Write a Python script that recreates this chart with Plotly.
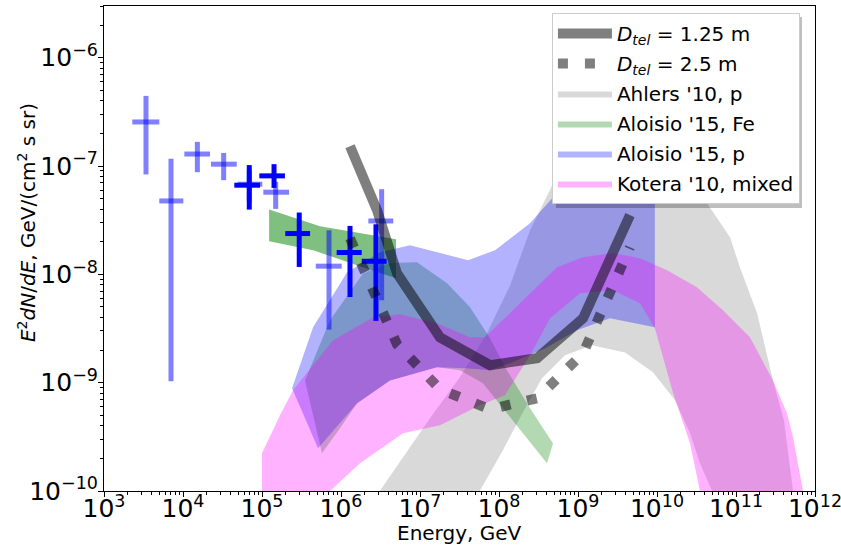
import plotly.graph_objects as go
import math

# ---------------- data ----------------
# Ahlers '10, p  (grey band): outer (upper) and inner (lower) curves
ahlers_up_E = [3.1e6, 1.42e7, 3.2e7, 7.05e7, 1.38e8, 2.47e8, 4.4e8, 9.2e8, 2.54e9, 8.15e9,
               2.26e10, 4.3e10, 8.4e10, 1.12e11, 1.85e11, 2.94e11, 4.05e11, 5.27e11]
ahlers_up_F = [1e-10, 5.0e-10, 1.12e-9, 2.86e-9, 7.9e-9, 2.55e-8, 5.97e-8, 1.93e-7, 3.64e-7, 3.27e-7,
               1.13e-7, 4.54e-8, 2.2e-8, 1.16e-8, 4.37e-9, 1.05e-9, 4.5e-10, 1e-10]
ahlers_lo_E = [5.7e7, 1.12e8, 2.01e8, 3.5e8, 6.84e8, 1.5e9, 3.94e9, 8.9e9, 1.69e10, 2.62e10, 3.5e10, 4.97e10]
ahlers_lo_F = [1e-10, 2.38e-10, 5.33e-10, 1.1e-9, 1.79e-9, 2.21e-9, 1.9e-9, 1.25e-9, 6.9e-10, 3.41e-10, 1.8e-10, 1e-10]

# Aloisio '15, Fe (green band)
fe_up_E = [3.5e5, 7.26e5, 1.9e6, 4.17e6, 9.16e6, 2.2e7, 4.3e7, 7.7e7, 1.26e8, 2.47e8, 4.83e8]
fe_up_F = [1.05e-9, 3.77e-9, 1.02e-8, 1.27e-8, 1.29e-8, 8.28e-9, 4.97e-9, 2.57e-9, 1.3e-9, 5.8e-10, 2.75e-10]
fe_lo_E = [5.74e5, 9.7e5, 1.6e6, 4.17e6, 1.64e7, 3.2e7, 6.27e7, 1.6e8, 4.05e8]
fe_lo_F = [2.23e-10, 3.8e-10, 6.46e-10, 1.05e-9, 1.39e-9, 1.3e-9, 9.9e-10, 4.2e-10, 1.8e-10]
# Aloisio '15, Fe (darker low-energy part)
fe2_up_E = [1.23e5, 5.42e5, 4.97e6]
fe2_up_F = [3.97e-8, 2.78e-8, 2.11e-8]
fe2_lo_E = [1.23e5, 4.43e5, 1.74e6, 4.97e6]
fe2_lo_F = [2.02e-8, 1.67e-8, 1.19e-8, 9.2e-9]

# Aloisio '15, p (blue band)
p_up_E = [2.4e5, 4.43e5, 1.19e6, 3.12e6, 7.47e6, 1.69e7, 4.06e7, 8.9e7, 2.47e8, 4.83e8, 1.9e9, 9.4e9]
p_up_F = [8.87e-10, 3.24e-9, 1.04e-8, 1.6e-8, 1.86e-8, 1.6e-8, 1.35e-8, 1.67e-8, 2.96e-8, 5.15e-8, 1.4e-7, 2.38e-7]
p_lo_E = [2.4e5, 5.12e5, 1.6e6, 4.17e6, 1.64e7, 3.72e7, 7.7e7, 1.38e8, 3.82e8, 9.7e8, 2.54e9, 9.4e9]
p_lo_F = [8.87e-10, 2.48e-10, 6.46e-10, 1.05e-9, 1.39e-9, 1.36e-9, 1.3e-9, 1.51e-9, 2.07e-9, 3.05e-9, 3.93e-9, 3.24e-9]

# Kotera '10, mixed (magenta band)
kot_up_E = [1e5, 1.69e5, 2.47e5, 7.93e5, 2.54e6, 5.58e6, 1.64e7, 4.3e7, 6.65e7, 1.85e8, 5.42e8,
            1.16e9, 2.77e9, 6.1e9, 1.34e10, 3.2e10, 6.84e10, 1.5e11, 2.94e11, 4.43e11, 5.27e11, 7.05e11]
kot_up_F = [2.23e-10, 5.0e-10, 8.5e-10, 2.46e-9, 4.0e-9, 4.28e-9, 3.53e-9, 2.62e-9, 2.62e-9, 5.41e-9, 1.16e-8,
            1.44e-8, 1.57e-8, 1.41e-8, 1.09e-8, 7.6e-9, 4.65e-9, 2.62e-9, 1.05e-9, 5.2e-10, 3.13e-10, 1e-10]
kot_lo_E = [1e5, 7.26e5, 1.74e6, 6.1e6, 1.79e7, 5.74e7, 1.19e8, 2.47e8, 4.43e8, 1.06e9, 2.77e9,
            6.1e9, 9.4e9, 1.6e10, 2.62e10, 3.5e10]
kot_lo_F = [1e-10, 1e-10, 1.8e-10, 3.41e-10, 4.04e-10, 6.2e-10, 7.66e-10, 1.79e-9, 3.93e-9, 6.68e-9, 7.13e-9,
            5.41e-9, 3.18e-9, 7.98e-10, 2.75e-10, 1e-10]

# Sensitivity curves
sens_E_125 = [1.3e6, 2.86e6, 5.12e6, 1.79e7, 7.7e7, 3.03e8, 1.16e9, 4.55e9]
sens_F_125 = [1.52e-7, 3.91e-8, 1.02e-8, 2.62e-9, 1.45e-9, 1.68e-9, 3.93e-9, 3.52e-8]
sens_E_25 = [1.3e6, 5.12e6, 1.79e7, 7.7e7, 3.03e8, 1.16e9, 4.55e9]
sens_F_25 = [2.15e-8, 2.26e-9, 8.7e-10, 5.68e-10, 7.18e-10, 1.87e-9, 1.78e-8]

# Data points (faint set)
pts1_E = [3.40e3, 7.05e3, 1.52e4, 3.27e4, 6.9e4, 1.49e5, 7.05e5, 3.27e6]
pts1_Elo = [2.28e3, 5.01e3, 1.04e4, 2.26e4, 4.92e4, 1.04e5, 4.79e5, 2.22e6]
pts1_Ehi = [5.01e3, 1.01e4, 2.2e4, 4.79e4, 1.01e5, 2.2e5, 1.02e6, 4.59e6]
pts1_F = [2.55e-7, 4.76e-8, 1.29e-7, 1.04e-7, 6.79e-8, 5.73e-8, 1.19e-8, 3.11e-8]
pts1_Fhi = [4.44e-7, 1.17e-7, 1.67e-7, 1.32e-7, 9.14e-8, 7.13e-8, 2.55e-8, 6.11e-8]
pts1_Flo = [8.36e-8, 1.03e-9, 8.77e-8, 7.4e-8, 4.67e-8, 4.02e-8, 3.09e-9, 5.77e-9]

# Data points (solid set)
pts2_E = [6.9e4, 1.42e5, 2.96e5, 1.3e6, 2.77e6]
pts2_Elo = [4.46e4, 9.25e4, 1.97e5, 8.81e5, 1.83e6]
pts2_Ehi = [9.44e4, 1.95e5, 4.06e5, 1.83e6, 3.78e6]
pts2_F = [6.65e-8, 8.11e-8, 2.38e-8, 1.59e-8, 1.32e-8]
pts2_Fhi = [1.02e-7, 1.04e-7, 3.72e-8, 2.8e-8, 2.9e-8]
pts2_Flo = [3.96e-8, 6.28e-8, 1.17e-8, 6.18e-9, 3.72e-9]

FONT = "DejaVu Sans"

fig = go.Figure()


def band(up_E, up_F, lo_E, lo_F, color, name, rank, show=True):
    xs = list(up_E) + list(reversed(lo_E))
    ys = list(up_F) + list(reversed(lo_F))
    fig.add_trace(go.Scatter(
        x=xs, y=ys, mode="lines", fill="toself", fillcolor=color,
        line=dict(width=0, color=color), name=name, showlegend=show,
        legendrank=rank, legendgroup=name if show else None, hoverinfo="skip"))


band(ahlers_up_E, ahlers_up_F, ahlers_lo_E, ahlers_lo_F, "rgba(128,128,128,0.3)", "Ahlers '10, p", 3)
band(fe_up_E, fe_up_F, fe_lo_E, fe_lo_F, "rgba(0,128,0,0.3)", "Aloisio '15, Fe", 4)
band(fe2_up_E, fe2_up_F, fe2_lo_E, fe2_lo_F, "rgba(0,128,0,0.5)", "Aloisio '15, Fe (low E)", 9, show=False)
band(p_up_E, p_up_F, p_lo_E, p_lo_F, "rgba(0,0,255,0.3)", "Aloisio '15, p", 5)
band(kot_up_E, kot_up_F, kot_lo_E, kot_lo_F, "rgba(255,0,255,0.3)", "Kotera '10, mixed", 6)


def points(E, Elo, Ehi, F, Flo, Fhi, color):
    fig.add_trace(go.Scatter(
        x=E, y=F, mode="markers", marker=dict(size=1, color="rgba(0,0,0,0)"),
        error_x=dict(type="data", symmetric=False,
                     array=[h - e for h, e in zip(Ehi, E)],
                     arrayminus=[e - l for e, l in zip(E, Elo)],
                     color=color, thickness=5, width=0),
        error_y=dict(type="data", symmetric=False,
                     array=[h - f for h, f in zip(Fhi, F)],
                     arrayminus=[f - l for f, l in zip(F, Flo)],
                     color=color, thickness=5, width=0),
        showlegend=False, hoverinfo="skip"))


points(pts1_E, pts1_Elo, pts1_Ehi, pts1_F, pts1_Flo, pts1_Fhi, "rgba(0,0,255,0.5)")
points(pts2_E, pts2_Elo, pts2_Ehi, pts2_F, pts2_Flo, pts2_Fhi, "rgb(0,0,255)")

fig.add_trace(go.Scatter(
    x=sens_E_125, y=sens_F_125, mode="lines",
    line=dict(color="rgba(0,0,0,0.5)", width=10),
    name="<i>D<sub>tel</sub></i> = 1.25 m", legendrank=1, legendgroup="a"))
fig.add_trace(go.Scatter(
    x=sens_E_25, y=sens_F_25, mode="lines",
    line=dict(color="rgba(0,0,0,0.5)", width=10, dash="10px,17px"),
    name="<i>D<sub>tel</sub></i> = 2.5 m", legendrank=2, legendgroup="b"))

axis_common = dict(
    type="log", dtick=1, exponentformat="power", showline=True, mirror=True,
    linecolor="black", linewidth=1.1, ticks="outside", ticklen=5, tickwidth=1.1,
    tickcolor="black", showgrid=False, zeroline=False, automargin=False,
    ticklabeloverflow="allow",
    tickfont=dict(family=FONT, size=20, color="black"),
    minor=dict(ticks="outside", ticklen=3, tickwidth=0.8, tickcolor="black",
               dtick="D1", showgrid=False),
)

fig.update_xaxes(range=[3, 12], ticklabelstandoff=-9, **axis_common)
fig.update_yaxes(range=[-10, math.log10(3e-6)], ticklabelstandoff=-4, **axis_common)

# axis titles
fig.add_annotation(text="Energy, GeV", xref="paper", yref="paper", x=0.5, y=-0.0866,
                   xanchor="center", yanchor="middle", showarrow=False,
                   font=dict(family=FONT, size=20, color="black"))
fig.add_annotation(text="<i>E</i><sup>2</sup><i>dN</i>/<i>dE</i>, GeV/(cm<sup>2</sup> s sr)",
                   xref="paper", yref="paper", x=-0.1083, y=0.5546, textangle=-90,
                   xanchor="center", yanchor="middle", showarrow=False,
                   font=dict(family=FONT, size=20, color="black"))

# soft shadow behind the legend box (legend itself is drawn on top)
fig.add_shape(type="rect", xref="paper", yref="paper",
              x0=0.6357, x1=0.9817, y0=0.5835, y1=0.9773,
              fillcolor="rgba(0,0,0,0.25)", line=dict(width=0), layer="above")

fig.update_layout(
    width=841, height=552,
    margin=dict(l=104, r=26, t=6, b=61),
    plot_bgcolor="white", paper_bgcolor="white",
    font=dict(family=FONT, size=20, color="black"),
    legend=dict(x=0.630, y=0.9856, xanchor="left", yanchor="top",
                bgcolor="white", bordercolor="#cccccc", borderwidth=1,
                font=dict(family=FONT, size=20, color="black"),
                tracegroupgap=1, itemwidth=54, traceorder="grouped"),
    showlegend=True,
)

fig.write_html("out.html", post_script="document.body.style.margin='0px';",
               config={"displayModeBar": False})
